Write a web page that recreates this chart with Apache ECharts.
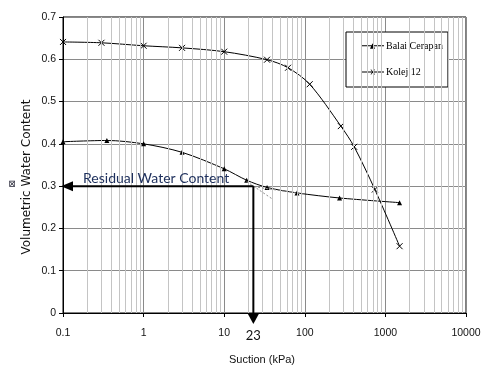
<!DOCTYPE html>
<html><head><meta charset="utf-8">
<script src="https://cdn.jsdelivr.net/npm/echarts@6/dist/echarts.min.js"></script>
<style>html,body{margin:0;padding:0;background:#fff}#c{width:490px;height:372px}</style>
</head><body><div id="c"></div>
<script>
// ---- data ----
const xTickValues = [0.1, 1, 10, 100, 1000, 10000];
const yTickValues = [0, 0.1, 0.2, 0.3, 0.4, 0.5, 0.6, 0.7];
const minorMultipliers = [2, 3, 4, 5, 6, 7, 8, 9];
const seriesNames = ['Balai Cerapan', 'Kolej 12'];
const balaiSuction = [0.1, 0.35, 1, 3, 10, 19, 34, 80, 270, 1500];
const balaiTheta   = [0.405, 0.408, 0.400, 0.380, 0.341, 0.314, 0.297, 0.284, 0.272, 0.261];
const kolejSuction = [0.1, 0.3, 1, 3, 10, 34, 62, 115, 280, 410, 740, 1500];
const kolejTheta   = [0.641, 0.639, 0.632, 0.627, 0.618, 0.599, 0.580, 0.541, 0.442, 0.393, 0.292, 0.158];
const residualSuction = 23;
const residualTheta = 0.30;
const tangentSteep = [[19, 0.311], [40, 0.269]];
const tangentFlat  = [[21, 0.300], [100, 0.281]];
const annotationText = 'Residual Water Content';
const xTitle = 'Suction (kPa)';
const yTitle = 'Volumetric Water Content';

// ---- chart ----
const chart = echarts.init(document.getElementById('c'), null, {renderer: 'canvas'});
const minorVals = [];
xTickValues.slice(0, -1).forEach(d => minorMultipliers.forEach(m => minorVals.push(+(d * m).toPrecision(6))));
const tickFont = {fontFamily: '"Liberation Sans Narrow","Liberation Sans",Arial', fontSize: 10.5, color: '#111'};
const xSym = 'path://M0,0L10,10M0,10L10,0';
// legend icons: line segment with marker in the middle (23 x 6 box)
const legendIconTri = 'path://M0,2.5H23V3.5H0ZM9,6L11.5,0.5L14,6Z';
const legendIconX = 'path://M0,2.5H23V3.5H0ZM9.5,0.5L10.3,0.5L14,5.5L13.2,5.5ZM13.2,0.5L14,0.5L10.3,5.5L9.5,5.5ZM0,0H0.01V6H0Z';

chart.setOption({
  animation: false,
  backgroundColor: '#fff',
  grid: {left: 63, right: 24, top: 17, bottom: 59, show: true, borderColor: '#000', borderWidth: 1},
  legend: {
    data: [{name: seriesNames[0], icon: legendIconTri}, {name: seriesNames[1], icon: legendIconX}],
    orient: 'vertical', left: 346, top: 32,
    backgroundColor: '#fff', borderColor: '#000', borderWidth: 1, borderRadius: 0,
    padding: [9, 5, 10, 15], itemGap: 16, itemWidth: 23, itemHeight: 6,
    itemStyle: {borderWidth: 0, color: '#000'},
    textStyle: {fontFamily: '"Liberation Serif","Times New Roman",serif', fontSize: 10, color: '#000', padding: [0, 0, 0, -3]}
  },
  xAxis: {
    type: 'log', logBase: 10, min: xTickValues[0], max: xTickValues[xTickValues.length - 1],
    name: xTitle, nameLocation: 'middle', nameGap: 41, nameMoveOverlap: false,
    nameTextStyle: {fontFamily: '"Liberation Sans Narrow","Liberation Sans",Arial', fontSize: 11, color: '#111', padding: [0, 5, 0, 0]},
    axisLine: {lineStyle: {color: '#000', width: 1}},
    axisTick: {show: true, inside: false, length: 4, lineStyle: {color: '#000'}},
    axisLabel: Object.assign({margin: 15, formatter: v => String(+(+v).toPrecision(6))}, tickFont),
    splitLine: {show: true, lineStyle: {color: '#8a8a8a', width: 1}}
  },
  yAxis: {
    type: 'value', min: yTickValues[0], max: yTickValues[yTickValues.length - 1], interval: 0.1,
    name: yTitle, nameLocation: 'middle', nameGap: 30, nameMoveOverlap: false,
    nameTextStyle: {fontFamily: '"DejaVu Sans",sans-serif', fontSize: 12, color: '#111', padding: [0, 24, 0, 0]},
    axisLine: {show: true, lineStyle: {color: '#000', width: 1}},
    axisTick: {show: true, inside: false, length: 4, lineStyle: {color: '#000'}},
    axisLabel: Object.assign({margin: 7, formatter: v => String(+(+v).toFixed(2))}, tickFont),
    splitLine: {show: true, lineStyle: {color: '#8a8a8a', width: 1}}
  },
  series: [
    {
      name: '_minor', type: 'line', data: [], z: 0, silent: true,
      markLine: {
        silent: true, symbol: 'none', animation: false,
        label: {show: false},
        lineStyle: {color: '#c4c4c4', width: 1, type: 'solid'},
        data: minorVals.map(v => ({xAxis: v}))
      }
    },
    {
      name: seriesNames[0], type: 'line', smooth: 0.3, z: 3,
      data: balaiSuction.map((x, i) => [x, balaiTheta[i]]),
      symbol: 'triangle', symbolSize: 5,
      lineStyle: {color: '#000', width: 1},
      itemStyle: {color: '#000'}
    },
    {
      name: seriesNames[1], type: 'line', smooth: 0.3, z: 3,
      data: kolejSuction.map((x, i) => [x, kolejTheta[i]]),
      symbol: xSym, symbolSize: 6,
      lineStyle: {color: '#000', width: 1},
      itemStyle: {color: '#000', borderColor: '#000', borderWidth: 1}
    }
  ]
});

// ---- annotations, positioned through the chart's scales ----
function px(x, y) { return chart.convertToPixel({xAxisIndex: 0, yAxisIndex: 0}, [x, y]); }
const pr = px(residualSuction, residualTheta);
const pAxisY = px(xTickValues[0], residualTheta);
const pBottom = px(residualSuction, yTickValues[0]);
const ts1 = px(...tangentSteep[0]), ts2 = px(...tangentSteep[1]);
const tf1 = px(...tangentFlat[0]), tf2 = px(...tangentFlat[1]);
const yMid = (px(1, yTickValues[0])[1] + px(1, yTickValues[yTickValues.length - 1])[1]) / 2;

chart.setOption({
  graphic: [
    {type: 'line', z: 50, shape: {x1: ts1[0], y1: ts1[1], x2: ts2[0], y2: ts2[1]}, style: {stroke: '#8c8c8c', lineWidth: 1, lineDash: [2, 2]}},
    {type: 'line', z: 50, shape: {x1: tf1[0], y1: tf1[1], x2: tf2[0], y2: tf2[1]}, style: {stroke: '#8c8c8c', lineWidth: 1, lineDash: [2, 2]}},
    {type: 'line', z: 60, shape: {x1: pr[0], y1: pr[1], x2: pAxisY[0] + 8, y2: pr[1]}, style: {stroke: '#000', lineWidth: 2}},
    {type: 'polygon', z: 60, shape: {points: [[pAxisY[0] - 2, pr[1]], [pAxisY[0] + 10, pr[1] - 5], [pAxisY[0] + 10, pr[1] + 5]]}, style: {fill: '#000'}},
    {type: 'line', z: 60, shape: {x1: pr[0], y1: pr[1], x2: pr[0], y2: pBottom[1] + 2}, style: {stroke: '#000', lineWidth: 2}},
    {type: 'polygon', z: 60, shape: {points: [[pr[0] - 6, pBottom[1]], [pr[0] + 6, pBottom[1]], [pr[0], pBottom[1] + 11]]}, style: {fill: '#000'}},
    {type: 'text', z: 60, left: pAxisY[0] + 20, top: pr[1] - 15,
      style: {text: annotationText, fill: '#1d2f5c', font: '14px Lato, "Open Sans", sans-serif'}},
    {type: 'text', z: 60, x: pr[0], y: pBottom[1] + 23,
      style: {text: String(residualSuction), fill: '#111', font: '13px Lato, "Open Sans", sans-serif', align: 'center', verticalAlign: 'middle'}},
    {type: 'text', z: 60, x: 13, y: yMid + 19, rotation: Math.PI / 2,
      style: {text: '\u22A0', fill: '#223', font: '9px "DejaVu Sans", sans-serif', align: 'center', verticalAlign: 'middle'}}
  ]
});
</script>
</body></html>
